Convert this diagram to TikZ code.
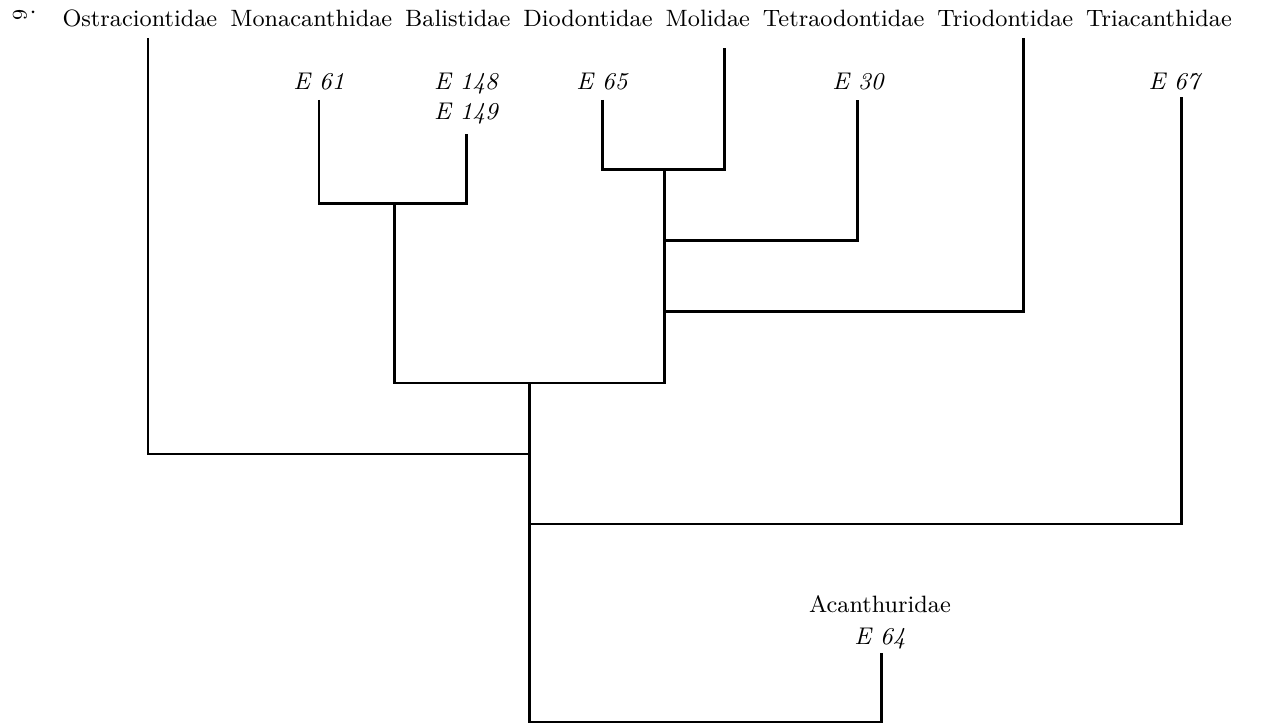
\documentclass[tikz,border=0pt]{standalone}
\usepackage{graphicx}
\begin{document}
\begin{tikzpicture}[x=0.385pt,y=-0.385pt,
  branch/.style={line width=1.15pt},
  taxon/.style={anchor=base, inner sep=0pt, font=\fontsize{9.1}{11}\selectfont},
  rowtaxon/.style={taxon, anchor=base west},
  code/.style={anchor=base, inner sep=0pt, font=\fontsize{9.3}{11}\selectfont\itshape}]
\useasboundingbox (0,0) rectangle (1269,724);
% page mark
\node[inner sep=0pt, font=\fontsize{8}{9}\selectfont] (pg) at (20,15) {\rotatebox{90}{9}};
\fill (33,12) circle (1.5);
% top taxa, one evenly spaced row
\node[rowtaxon] (ost) at (62,27) {Ostraciontidae};
\node[rowtaxon] (mon) at ([xshift=4.6pt]ost.base east) {Monacanthidae};
\node[rowtaxon] (bal) at ([xshift=4.6pt]mon.base east) {Balistidae};
\node[rowtaxon] (dio) at ([xshift=4.6pt]bal.base east) {Diodontidae};
\node[rowtaxon] (mol) at ([xshift=4.6pt]dio.base east) {Molidae};
\node[rowtaxon] (tet) at ([xshift=4.6pt]mol.base east) {Tetraodontidae};
\node[rowtaxon] (tri) at ([xshift=4.6pt]tet.base east) {Triodontidae};
\node[rowtaxon] (tca) at ([xshift=4.6pt]tri.base east) {Triacanthidae};
% codes
\node[code] (e61) at (319,90) {E 61};
\node[code] (e148) at (466,90) {E 148};
\node[code] (e149) at (466,120) {E 149};
\node[code] (e65) at (602,90) {E 65};
\node[code] (e30) at (858,90) {E 30};
\node[code] (e67) at (1174,90) {E 67};
\node[taxon] (aca) at (880,613) {Acanthuridae};
\node[code] (e64) at (880,645) {E 64};
% leaf tops
\coordinate (tOst) at (148,38);
\coordinate (tE61) at (319,100);
\coordinate (tE148) at (466,134);
\coordinate (tE65) at (602,100);
\coordinate (tMol) at (724,48);
\coordinate (tE30) at (857,100);
\coordinate (tTri) at (1023,38);
\coordinate (tE67) at (1181,97);
\coordinate (tE64) at (881,653);
% junctions
\coordinate (j1) at (394,204);
\coordinate (j2) at (664,170);
\coordinate (j3) at (664,241);
\coordinate (j4) at (664,312);
\coordinate (j5) at (529,383);
\coordinate (j6) at (529,454);
\coordinate (j7) at (529,524);
\coordinate (j8) at (529,722);
% branches
\draw[branch] (tE61) |- (j1) -| (tE148);
\draw[branch] (tE65) |- (j2) -| (tMol);
\draw[branch] (j2) -- (j3) -| (tE30);
\draw[branch] (j3) -- (j4) -| (tTri);
\draw[branch] (j1) |- (j5) -| (j4);
\draw[branch] (j5) -- (j6) -| (tOst);
\draw[branch] (j6) -- (j7) -| (tE67);
\draw[branch] (j7) -- (j8) -| (tE64);
\end{tikzpicture}
\end{document}
